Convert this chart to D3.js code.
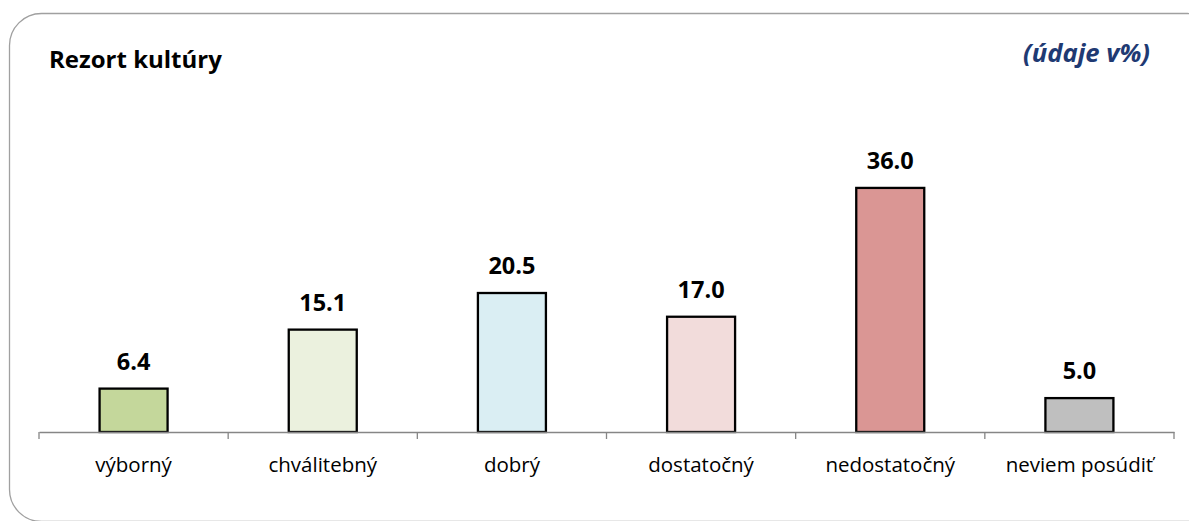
<!DOCTYPE html>
<html><head><meta charset="utf-8">
<script src="https://cdn.jsdelivr.net/npm/d3@7"></script>
<style>html,body{margin:0;padding:0;background:#fff;overflow:hidden}</style>
</head><body>
<svg id="c" width="1189" height="521"></svg>
<script>
const categories = ["výborný","chválitebný","dobrý","dostatočný","nedostatočný","neviem posúdiť"];
const values = [6.4, 15.1, 20.5, 17.0, 36.0, 5.0];
const colors = ["#c4d79b","#ebf1de","#daeef3","#f2dcdb","#da9694","#bfbfbf"];
const title = "Rezort kultúry";
const unitNote = "(údaje v%)";

const svg = d3.select("#c");
const font = "'Open Sans', 'Noto Sans', sans-serif";

// fit a text's font size so that its width matches a target width
function fit(sel, target) {
  const fs = parseFloat(sel.attr("font-size"));
  const w = sel.node().getComputedTextLength();
  if (w > 0) sel.attr("font-size", fs * target / w);
  return sel;
}

svg.append("rect").attr("x",9.5).attr("y",13.5).attr("width",1210).attr("height",508)
  .attr("rx",32).attr("fill","#fff").attr("stroke","#a0a0a0").attr("stroke-width",1.3);

fit(svg.append("text").attr("x",49).attr("y",68).text(title)
  .attr("font-family",font).attr("font-weight","bold").attr("font-size",23).attr("fill","#000"), 173);
fit(svg.append("text").attr("x",1150).attr("y",62).attr("text-anchor","end").text(unitNote)
  .attr("font-family",font).attr("font-weight","bold").attr("font-style","italic")
  .attr("font-size",23).attr("fill","#1f3a73"), 127);

const xb = d3.scaleBand().domain(categories).range([39,1174]);
const y = d3.scaleLinear().domain([0,40]).range([432,160.8]);

svg.selectAll("rect.bar").data(values).join("rect").attr("class","bar")
  .attr("x",(d,i)=>xb(categories[i])+xb.bandwidth()/2-34)
  .attr("width",68)
  .attr("y",d=>y(d)).attr("height",d=>y(0)-y(d))
  .attr("fill",(d,i)=>colors[i]).attr("stroke","#000").attr("stroke-width",2.3);

const axis = d3.axisBottom(xb).tickSize(7).tickFormat("").tickSizeOuter(0);
const ag = svg.append("g").attr("transform","translate(0,432)").call(axis);
ag.select(".domain").attr("stroke","#868686").attr("stroke-width",1.3);
ag.selectAll(".tick").remove();
const edges = categories.map(c=>xb(c)).concat([xb.range()[1]]);
ag.selectAll("line.tk").data(edges).join("line").attr("class","tk")
  .attr("x1",d=>d).attr("x2",d=>d).attr("y1",0).attr("y2",7)
  .attr("stroke","#868686").attr("stroke-width",1.3);

svg.selectAll("text.cat").data(categories).join("text").attr("class","cat")
  .attr("x",d=>xb(d)+xb.bandwidth()/2).attr("y",472).attr("text-anchor","middle")
  .attr("font-family",font).attr("font-size",20.5).attr("fill","#000").text(d=>d);

svg.selectAll("text.val").data(values).join("text").attr("class","val")
  .attr("x",(d,i)=>xb(categories[i])+xb.bandwidth()/2).attr("y",d=>y(d)-19)
  .attr("text-anchor","middle").attr("font-family",font).attr("font-weight","bold")
  .attr("font-size",23.5).attr("fill","#000").text(d=>d.toFixed(1));
</script>
</body></html>
